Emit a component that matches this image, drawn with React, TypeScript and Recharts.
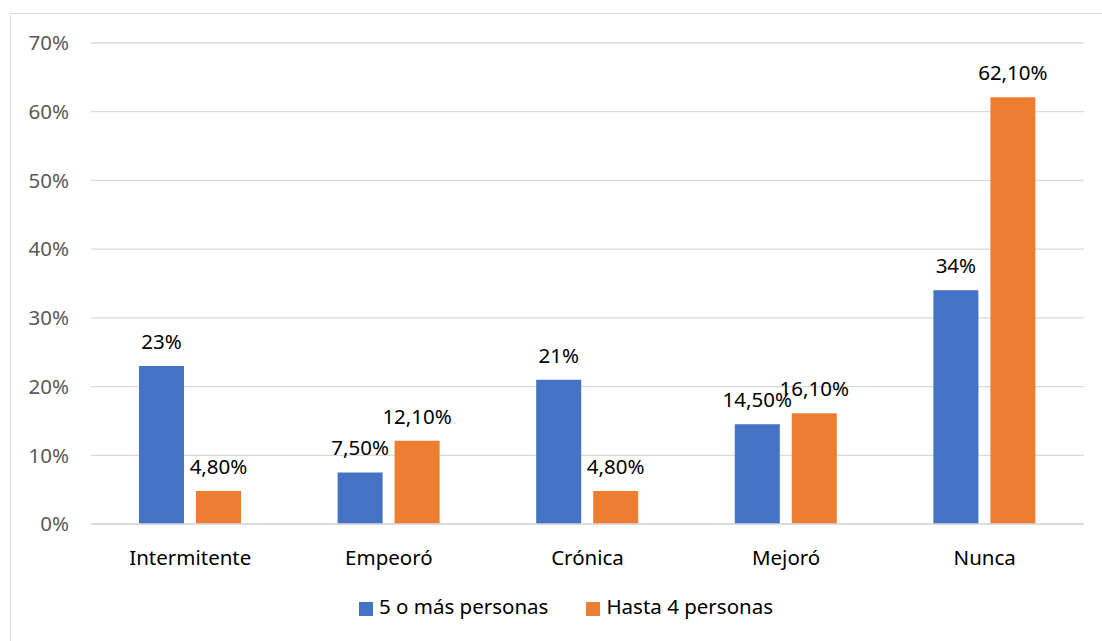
import React from "react";
import {
  Bar,
  BarChart,
  CartesianGrid,
  LabelList,
  Legend,
  XAxis,
  YAxis,
} from "recharts";

const categories = ["Intermitente", "Empeoró", "Crónica", "Mejoró", "Nunca"];
const cincoOMas = [23, 7.5, 21, 14.5, 34];
const hastaCuatro = [4.8, 12.1, 4.8, 16.1, 62.1];
const yTicks = [0, 10, 20, 30, 40, 50, 60, 70];

const FONT = "'Noto Sans', 'Open Sans', sans-serif";
const FS = 20.5;

// 23 -> "23%", 7.5 -> "7,50%"
const fmtLabel = (v: number) =>
  Number.isInteger(v) ? `${v}%` : `${v.toFixed(2).replace(".", ",")}%`;

const data = categories.map((c, i) => ({
  name: c,
  a: cincoOMas[i],
  b: hastaCuatro[i],
}));

export default function App() {
  return (
    <div
      style={{
        position: "absolute",
        left: 0,
        top: 0,
        width: 1102,
        height: 641,
        background: "#fff",
        fontFamily: FONT,
        overflow: "hidden",
      }}
    >
      <div
        style={{
          position: "absolute",
          left: 10,
          top: 13,
          right: -2,
          bottom: -2,
          borderLeft: "1.5px solid #d9d9d9",
          borderTop: "1.5px solid #d9d9d9",
        }}
      />
      <div style={{ position: "absolute", left: 0, top: 0 }}>
        <BarChart
          width={1102}
          height={641}
          data={data}
          margin={{ top: 43, right: 18, bottom: 19, left: 0 }}
          barGap={12}
          barSize={45}
        >
          <CartesianGrid vertical={false} stroke="#d9d9d9" strokeWidth={1.3} />
          <XAxis
            dataKey="name"
            axisLine={{ stroke: "#d9d9d9", strokeWidth: 1.3 }}
            tickLine={false}
            tickMargin={20}
            height={68}
            tick={{ fontSize: FS, fill: "#000", fontFamily: FONT }}
          />
          <YAxis
            width={91}
            domain={[0, 70]}
            ticks={yTicks}
            interval={0}
            axisLine={false}
            tickLine={false}
            tickMargin={16}
            tickFormatter={(v) => `${v}%`}
            tick={{ fontSize: FS, fill: "#595959", fontFamily: FONT }}
          />
          <Legend
            verticalAlign="bottom"
            height={30}
            iconType="square"
            iconSize={14}
            wrapperStyle={{ fontSize: FS, fontFamily: FONT, paddingLeft: 43 }}
            formatter={(value) => (
              <span style={{ color: "#000", marginLeft: 2, marginRight: 28 }}>
                {value}
              </span>
            )}
          />
          <Bar
            dataKey="a"
            name="5 o más personas"
            fill="#4472C4"
            isAnimationActive={false}
          >
            <LabelList
              dataKey="a"
              position="top"
              offset={17}
              formatter={(v: number) => fmtLabel(v)}
              style={{ fontSize: FS, fill: "#000", fontFamily: FONT }}
            />
          </Bar>
          <Bar
            dataKey="b"
            name="Hasta 4 personas"
            fill="#ED7D31"
            isAnimationActive={false}
          >
            <LabelList
              dataKey="b"
              position="top"
              offset={17}
              formatter={(v: number) => fmtLabel(v)}
              style={{ fontSize: FS, fill: "#000", fontFamily: FONT }}
            />
          </Bar>
        </BarChart>
      </div>
    </div>
  );
}
